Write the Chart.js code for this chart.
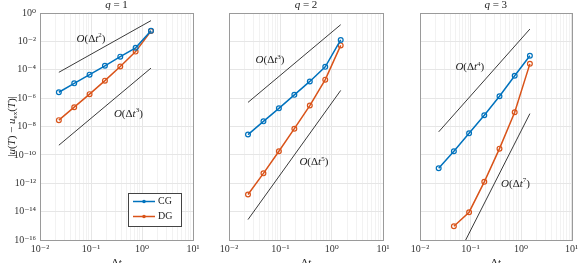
<!DOCTYPE html>
<html>
<head>
<meta charset="utf-8">
<script src="https://cdn.jsdelivr.net/npm/chart.js@4.4.1/dist/chart.umd.min.js"></script>
<style>
  html, body { margin: 0; padding: 0; background: #fff; }
  #wrap { position: relative; width: 581px; height: 263px; overflow: hidden; }
  #wrap canvas { position: absolute; left: 0; top: 0; }
</style>
</head>
<body>
<div id="wrap">
  <canvas id="q1" width="581" height="263"></canvas>
  <canvas id="q2" width="581" height="263"></canvas>
  <canvas id="q3" width="581" height="263"></canvas>
</div>
<script>
// time steps
const dt = [0.0234375, 0.046875, 0.09375, 0.1875, 0.375, 0.75, 1.5];

// errors, q = 1
const cg1 = [2.6e-6, 1.1e-5, 4.5e-5, 1.9e-4, 8.4e-4, 3.5e-3, 5.6e-2];
const dg1 = [2.8e-8, 2.3e-7, 1.9e-6, 1.7e-5, 1.7e-4, 1.9e-3, 5.4e-2];
// errors, q = 2
const cg2 = [2.7e-9, 2.3e-8, 1.9e-7, 1.7e-6, 1.5e-5, 1.6e-4, 1.26e-2];
const dg2 = [1.6e-13, 5e-12, 1.8e-10, 7e-9, 3e-7, 2e-5, 5.2e-3];
// errors, q = 3
const cg3 = [1.15e-11, 1.8e-10, 3.3e-9, 6.2e-8, 1.35e-6, 3.8e-5, 9.8e-4];
const dg3 = [null, 9.3e-16, 9.1e-15, 1.26e-12, 2.75e-10, 1e-7, 2.6e-4];

// reference slopes (end points at dt[0] and dt[6])
const refDt = [0.0234375, 1.5];
const ref1a = [6.6e-5, 0.29];   // O(dt^2)
const ref1b = [4.8e-10, 1.3e-4]; // O(dt^3)
const ref2a = [5e-7, 0.15];      // O(dt^3)
const ref2b = [2.75e-15, 3.5e-6]; // O(dt^5)
const ref3a = [4.2e-9, 0.074];   // O(dt^4)
const ref3b = [1.8e-20, 8.1e-8];  // O(dt^7)

const xTickVals = [];
[-2, -1, 0].forEach(e => { for (let m = 1; m <= 9; m++) xTickVals.push(m * Math.pow(10, e)); });
xTickVals.push(10);
const yExps = [0, -2, -4, -6, -8, -10, -12, -14, -16];

const SERIF = "'Liberation Serif', 'DejaVu Serif', serif";
const SUP = { '0': '⁰', '1': '¹', '2': '²', '3': '³', '4': '⁴', '5': '⁵', '6': '⁶', '7': '⁷', '8': '⁸', '9': '⁹', '-': '⁻' };
const blue = '#0072BD';
const orange = '#D95319';

function expOf(v) { return Math.round(Math.log10(v)); }
function isPow(v) { return Math.abs(Math.log10(v) - expOf(v)) < 1e-9; }
function powLabel(v) {
  return '10' + String(expOf(v)).split('').map(c => SUP[c]).join('');
}
function pts(arr) {
  return dt.map((x, i) => ({ x: x, y: arr[i] })).filter(p => p.y !== null);
}
function refPts(arr) {
  return refDt.map((x, i) => ({ x: x, y: arr[i] }));
}

// draws text made of pieces: [text, style] with style '', 'i', 'sup', 'sub'
function rich(ctx, parts, x, y, size, align) {
  const fontFor = s => (s === 'i' ? 'italic ' : '') + ((s === 'sup' || s === 'sub') ? Math.round(size * 0.65) : size) + 'px ' + SERIF;
  let w = 0;
  parts.forEach(p => { ctx.font = fontFor(p[1]); w += ctx.measureText(p[0]).width; });
  let cx = align === 'center' ? x - w / 2 : x;
  ctx.textBaseline = 'middle';
  ctx.textAlign = 'left';
  parts.forEach(p => {
    ctx.font = fontFor(p[1]);
    let dy = 0;
    if (p[1] === 'sup') dy = -size * 0.3;
    if (p[1] === 'sub') dy = size * 0.25;
    ctx.fillText(p[0], cx, y + dy);
    cx += ctx.measureText(p[0]).width;
  });
}

const decorations = {
  id: 'decorations',
  afterDraw(chart, args, opts) {
    const ctx = chart.ctx;
    const a = chart.chartArea;
    const xs = chart.scales.x, ys = chart.scales.y;
    ctx.save();
    // axes box
    ctx.strokeStyle = '#9a9a9a';
    ctx.lineWidth = 1;
    ctx.strokeRect(Math.round(a.left) + 0.5, Math.round(a.top) + 0.5, Math.round(a.right - a.left), Math.round(a.bottom - a.top));
    ctx.fillStyle = '#222';
    const cx = (a.left + a.right) / 2;
    // title
    rich(ctx, [['q', 'i'], [' = ' + opts.q, '']], cx, 5, 11, 'center');
    // x label
    rich(ctx, [['Δ', ''], ['t', 'i']], cx, 263, 11, 'center');
    // slope annotations
    opts.notes.forEach(n => {
      rich(ctx, [['O', 'i'], ['(Δ', ''], ['t', 'i'], [String(n.p), 'sup'], [')', '']],
        xs.getPixelForValue(n.x), ys.getPixelForValue(n.y), 11, 'center');
    });
    if (opts.ylabel) {
      ctx.save();
      ctx.translate(12, (a.top + a.bottom) / 2);
      ctx.rotate(-Math.PI / 2);
      rich(ctx, [['|', ''], ['u', 'i'], ['(', ''], ['T', 'i'], [') − ', ''], ['u', 'i'], ['ex', 'sub'], ['(', ''], ['T', 'i'], [')|', '']], 0, 0, 11, 'center');
      ctx.restore();
    }
    if (opts.legend) {
      const bx = 128, by = 193, bw = 53, bh = 33;
      ctx.fillStyle = '#fff';
      ctx.fillRect(bx, by, bw, bh);
      ctx.strokeStyle = '#444';
      ctx.strokeRect(bx + 0.5, by + 0.5, bw, bh);
      [[chart.data.datasets[0], 201.5], [chart.data.datasets[1], 216.5]].forEach(e => {
        const ds = e[0], yy = e[1];
        ctx.strokeStyle = ds.borderColor;
        ctx.lineWidth = 1.5;
        ctx.beginPath(); ctx.moveTo(133, yy); ctx.lineTo(155, yy); ctx.stroke();
        ctx.fillStyle = ds.borderColor;
        ctx.beginPath(); ctx.arc(144, yy, 1.8, 0, Math.PI * 2); ctx.fill();
        ctx.fillStyle = '#222';
        rich(ctx, [[ds.label, '']], 158, yy, 10, 'left');
      });
    }
    ctx.restore();
  }
};

function makeChart(id, q, cg, dg, refA, refB, padL, padR, notes) {
  const first = q === 1;
  const lineDs = (label, arr, color) => ({
    label: label, data: pts(arr), borderColor: color, backgroundColor: color,
    borderWidth: 1.5, pointRadius: 2.4, pointBorderWidth: 1.2,
    pointBackgroundColor: 'rgba(255,255,255,0)', pointBorderColor: color
  });
  const refDs = arr => ({
    label: '', data: refPts(arr), borderColor: '#3a3a3a', borderWidth: 1, pointRadius: 0
  });
  new Chart(document.getElementById(id).getContext('2d'), {
    type: 'line',
    data: {
      datasets: [lineDs('CG', cg, blue), lineDs('DG', dg, orange), refDs(refA), refDs(refB)]
    },
    options: {
      responsive: false,
      animation: false,
      devicePixelRatio: 1,
      layout: { padding: { left: padL, right: padR, top: 13, bottom: 0 } },
      plugins: {
        legend: { display: false },
        tooltip: { enabled: false },
        decorations: { q: q, notes: notes, ylabel: first, legend: first }
      },
      scales: {
        x: {
          type: 'logarithmic', min: 0.01, max: 10,
          afterBuildTicks: s => { s.ticks = xTickVals.map(v => ({ value: v })); },
          afterFit: s => { s.height = 23; },
          ticks: {
            autoSkip: false, maxRotation: 0, minRotation: 0, padding: 3,
            color: '#333', font: { family: SERIF, size: 10 },
            callback: v => isPow(v) ? powLabel(v) : ''
          },
          grid: {
            drawTicks: false,
            color: c => (c.tick && isPow(c.tick.value)) ? '#e6e6e6' : '#f2f2f2'
          },
          border: { display: false }
        },
        y: {
          type: 'logarithmic', min: 1e-16, max: 1,
          afterBuildTicks: s => { s.ticks = yExps.map(e => ({ value: Math.pow(10, e) })); },
          afterFit: s => { s.width = first ? 40 : 0; },
          ticks: {
            display: first, autoSkip: false, padding: 4,
            color: '#333', font: { family: SERIF, size: 10 },
            callback: v => powLabel(v)
          },
          grid: { drawTicks: false, color: '#e6e6e6' },
          border: { display: false }
        }
      }
    },
    plugins: [decorations]
  });
}

makeChart('q1', 1, cg1, dg1, ref1a, ref1b, 0, 388, [
  { x: 0.10, y: 0.015, p: 2 }, { x: 0.54, y: 8e-8, p: 3 }
]);
makeChart('q2', 2, cg2, dg2, ref2a, ref2b, 229, 198, [
  { x: 0.063, y: 4.6e-4, p: 3 }, { x: 0.45, y: 3e-11, p: 5 }
]);
makeChart('q3', 3, cg3, dg3, ref3a, ref3b, 420, 8, [
  { x: 0.097, y: 1.5e-4, p: 4 }, { x: 0.78, y: 9e-13, p: 7 }
]);
</script>
</body>
</html>
